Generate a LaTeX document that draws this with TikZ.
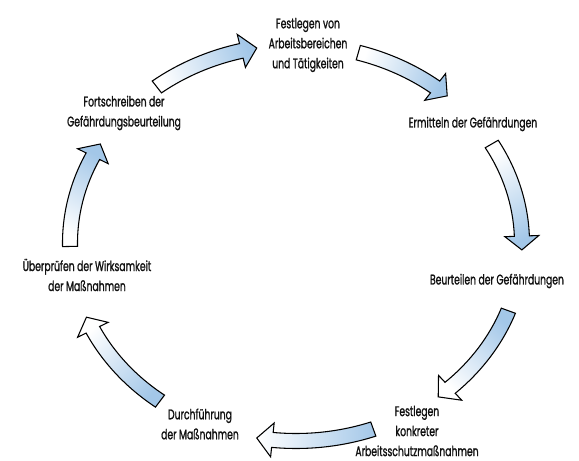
\documentclass[tikz,border=0pt]{standalone}
\usepackage{fontspec}
\setmainfont{Poppins}[FakeStretch=0.66, FakeBold=1.2]
\definecolor{arcblue}{HTML}{A3C7E8}
\definecolor{textblack}{HTML}{111111}

% thick curved arrow on the cycle ellipse: tail angle, tip angle, shading angle
\newcommand{\cyclearrow}[3]{%
  \pgfmathsetmacro{\headang}{#2+4}%
  \draw[arcarrow, shading angle=#3]
    (#1:233.5 and 205.5) arc[start angle=#1, end angle=\headang, x radius=233.5, y radius=205.5]
    -- (\headang:243 and 215) -- (#2:226 and 198) -- (\headang:209 and 181)
    -- (\headang:218.5 and 190.5) arc[start angle=\headang, end angle=#1, x radius=218.5, y radius=190.5]
    -- cycle;}

\begin{document}
\begin{tikzpicture}[x=0.75pt, y=0.75pt,
  arcarrow/.style={draw=black, line width=0.8pt, top color=arcblue, bottom color=white},
  steptext/.style={align=center, text=textblack, inner sep=0pt,
    font=\fontsize{10.5}{15}\selectfont}]
  \useasboundingbox (0,0) rectangle (579,461);

  \begin{scope}[shift={(296,218)}]
    \cyclearrow{181}{150}{-30}
    \cyclearrow{128}{100}{-70}
    \cyclearrow{74}{48}{-110}
    \cyclearrow{30}{-2}{-150}
    \cyclearrow{-20}{-51}{-45}
    \cyclearrow{-70}{-100}{-90}
    \cyclearrow{-127}{-158}{-135}
  \end{scope}

  \node[steptext] (festlegen) at (308,416) {Festlegen von\\Arbeitsbereichen\\und Tätigkeiten};
  \node[steptext] (ermitteln) at (473,337) {Ermitteln der Gefährdungen};
  \node[steptext] (beurteilen) at (497,180) {Beurteilen der Gefährdungen};
  \node[steptext] (konkret) at (417,30) {Festlegen\\konkreter\\Arbeitsschutzmaßnahmen};
  \node[steptext] (durchfuehrung) at (200,37) {Durchführung\\der Maßnahmen};
  \node[steptext] (pruefen) at (87,186) {Überprüfen der Wirksamkeit\\der Maßnahmen};
  \node[steptext] (fortschreiben) at (124,348) {Fortschreiben der\\Gefährdungsbeurteilung};
\end{tikzpicture}
\end{document}
